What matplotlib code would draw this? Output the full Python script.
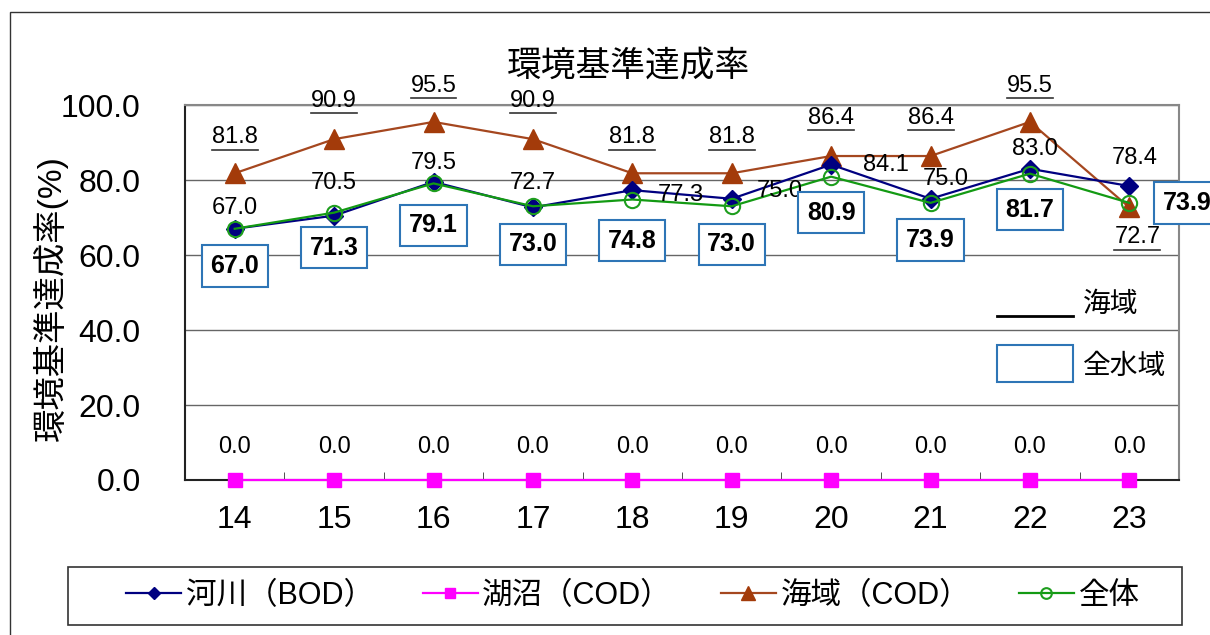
import matplotlib
matplotlib.use("Agg")
import matplotlib.pyplot as plt
from matplotlib.patches import Rectangle
from matplotlib.lines import Line2D

plt.rcParams['font.family'] = ['Liberation Sans', 'Noto Sans CJK JP']

years = ['14', '15', '16', '17', '18', '19', '20', '21', '22', '23']
river = [67.0, 70.5, 79.5, 72.7, 77.3, 75.0, 84.1, 75.0, 83.0, 78.4]
lake = [0.0, 0.0, 0.0, 0.0, 0.0, 0.0, 0.0, 0.0, 0.0, 0.0]
sea = [81.8, 90.9, 95.5, 90.9, 81.8, 81.8, 86.4, 86.4, 95.5, 72.7]
total = [67.0, 71.3, 79.1, 73.0, 74.8, 73.0, 80.9, 73.9, 81.7, 73.9]

# label offsets in pixels (dx, dy)
river_off = [(0, 21), (0, 33), (0, 19), (0, 24), (48, -5), (48, 8), (55, 0), (15, 20), (5, 20), (5, 28)]
sea_off = [(0, 36), (0, 38), (0, 36), (0, 38), (0, 36), (0, 36), (0, 38), (0, 38), (0, 36), (8, -30)]
total_off = [(0, -37), (0, -35), (0, -42), (0, -38), (0, -41), (0, -38), (0, -36), (0, -37), (0, -36), (58, 0)]

x = list(range(len(years)))

fig = plt.figure(figsize=(12.1, 6.35), dpi=100)
ax = fig.add_axes([0.1529, 0.2441, 0.8215, 0.5905])

ax.plot(x, river, color='#000080', lw=1.6, marker='D', ms=9, mfc='#000080', mec='#000080',
        label='河川（BOD）', zorder=4, clip_on=False)
ax.plot(x, lake, color='#FF00FF', lw=1.6, marker='s', ms=10, mfc='#FF00FF', mec='#FF00FF',
        label='湖沼（COD）', zorder=4, clip_on=False)
ax.plot(x, sea, color='#A5471F', lw=1.6, marker='^', ms=14, mfc='#A33B0A', mec='#A33B0A',
        label='海域（COD）', zorder=3, clip_on=False)
ax.plot(x, total, color='#139A13', lw=1.6, marker='o', ms=11, mfc='none', mec='#1E9E1E', mew=1.5,
        label='全体', zorder=5, clip_on=False)

ax.set_xlim(-0.5, len(years) - 0.5)
ax.set_ylim(0, 100)
ax.set_yticks([0, 20, 40, 60, 80, 100])
ax.set_yticklabels(['%.1f' % v for v in [0, 20, 40, 60, 80, 100]], fontsize=23)
ax.set_xticks(x)
ax.set_xticklabels(years, fontsize=23)
ax.set_xticks([i + 0.5 for i in x[:-1]], minor=True)
ax.tick_params(axis='x', which='major', length=0, pad=18)
ax.tick_params(axis='x', which='minor', direction='in', length=6, color='#333333')
ax.tick_params(axis='y', length=0, pad=32)
ax.grid(axis='y', color='#666666', lw=1)
ax.set_axisbelow(True)
for s in ['left', 'bottom']:
    ax.spines[s].set_color('#222222')
    ax.spines[s].set_linewidth(1.5)
for s in ['top', 'right']:
    ax.spines[s].set_color('#888888')
    ax.spines[s].set_linewidth(1.5)

fig.text(0.042, 0.53, '環境基準達成率(%)', rotation=90, fontsize=24, ha='center', va='center')
fig.text(0.519, 0.896, '環境基準達成率', fontsize=25, ha='center', va='center')

for i, v in enumerate(lake):
    ax.annotate('%.1f' % v, (i, v), xytext=(0, 33 * 0.72), textcoords='offset points',
                ha='center', va='center', fontsize=17, annotation_clip=False)
for i, v in enumerate(river):
    ax.annotate('%.1f' % v, (i, v), xytext=(river_off[i][0] * 0.72, river_off[i][1] * 0.72),
                textcoords='offset points', ha='center', va='center', fontsize=17, zorder=6)
sea_texts = []
for i, v in enumerate(sea):
    t = ax.annotate('%.1f' % v, (i, v), xytext=(sea_off[i][0] * 0.72, sea_off[i][1] * 0.72),
                    textcoords='offset points', ha='center', va='center', fontsize=17,
                    annotation_clip=False, zorder=6)
    sea_texts.append(t)
for i, v in enumerate(total):
    ax.annotate('%.1f' % v, (i, v), xytext=(total_off[i][0] * 0.72, total_off[i][1] * 0.72),
                textcoords='offset points', ha='center', va='center', fontsize=18,
                fontweight='bold', zorder=6, annotation_clip=False,
                bbox=dict(boxstyle='square,pad=0.35', fc='white', ec='#2E75B6', lw=1.5))

# legend (frame drawn separately)
fig.legend(loc='center', bbox_to_anchor=(0.523, 0.0614), ncol=4, fontsize=22,
           frameon=False, handlelength=1.8, columnspacing=1.6, handletextpad=0.15,
           borderpad=0, borderaxespad=0, markerscale=0.7)
fig.add_artist(Rectangle((68 / 1210, 10 / 635), 1114 / 1210, 58 / 635, fill=False, ec='#333333',
                         lw=1.2, transform=fig.transFigure))

# annotation key on the right
fig.add_artist(Line2D([997 / 1210, 1073 / 1210], [0.503, 0.503], color='black', lw=2,
                      transform=fig.transFigure))
fig.text(1083 / 1210, 0.52, '海域', fontsize=20, ha='left', va='center')
fig.add_artist(Rectangle((997 / 1210, 0.398), 76 / 1210, 0.058, fill=False, ec='#2E75B6', lw=1.5,
                         transform=fig.transFigure))
fig.text(1083 / 1210, 0.422, '全水域', fontsize=20, ha='left', va='center')

# outer frame
fig.add_artist(Rectangle((10 / 1210, -0.05), 1.2, 1.05 - 12 / 635, fill=False, ec='#333333', lw=1,
                         transform=fig.transFigure))

# underline for sea labels
fig.canvas.draw()
r = fig.canvas.get_renderer()
inv = fig.transFigure.inverted()
for t in sea_texts:
    bb = t.get_window_extent(r)
    (x0, y0), (x1, _) = inv.transform([(bb.x0, bb.y0), (bb.x1, bb.y1)])
    fig.add_artist(Line2D([x0, x1], [y0 - 0.002, y0 - 0.002], color='#333333', lw=1.2,
                          transform=fig.transFigure))

fig.savefig('out.png', dpi=100)
